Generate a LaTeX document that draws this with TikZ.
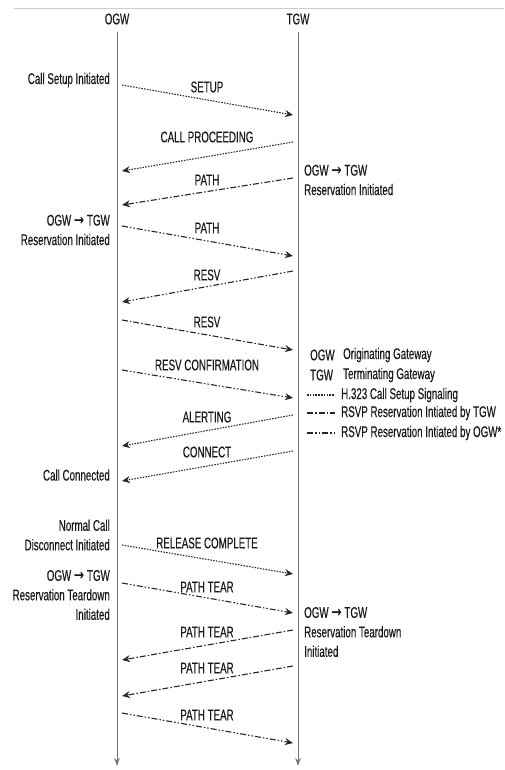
\documentclass[tikz,border=0pt]{standalone}
\usepackage{fontspec}
\setmainfont{Liberation Sans}[FakeStretch=0.63, FakeBold=0.35]
\newfontfamily\arrowfont{DejaVu Sans}[FakeStretch=0.8]
\usetikzlibrary{arrows.meta}

\newcommand{\gwto}{{\arrowfont\bfseries →}}

\tikzset{
  txt/.style={inner sep=0pt, text=black!90, font=\fontsize{15.5}{19.5}\selectfont},
  lside/.style={txt, anchor=east, align=right},
  rside/.style={txt, anchor=west, align=left},
  key/.style={txt, anchor=west},
  life/.style={black!55, line width=1pt, -{Stealth[length=8pt,width=5.5pt]}},
  sig/.style={black!85, line width=1.1pt, -{Stealth[length=8pt,width=7pt]}},
  h323/.style={sig, dash pattern=on 1.5pt off 1.3pt},
  bytgw/.style={sig, dash pattern=on 6pt off 2pt on 1.5pt off 2pt},
  byogw/.style={sig, dash pattern=on 6pt off 2pt on 1.5pt off 2pt on 1.5pt off 2pt}
}

\begin{document}
\begin{tikzpicture}[x=1pt,y=-1pt]
\useasboundingbox (0,0) rectangle (504,770);
\draw[black!20, line width=0.6pt] (14,8) -- (504,8);

% gateways
\node[txt] (ogw) at (117,19) {OGW};
\node[txt] (tgw) at (298,19) {TGW};
\coordinate (ogwend) at (117,766);
\coordinate (tgwend) at (298,766);
\draw[life, shorten <=7pt] (ogw) -- (ogwend);
\draw[life, shorten <=7pt] (tgw) -- (tgwend);

% events
\node[lside] (setupinit) at (110,80) {Call Setup Initiated};
\node[rside] (tgwresv) at (304,180) {OGW \gwto\ TGW\\Reservation Initiated};
\node[lside] (ogwresv) at (110,230) {OGW \gwto\ TGW\\Reservation Initiated};
\node[lside] (connected) at (110,475) {Call Connected};
\node[lside] (disc) at (110,535) {Normal Call\\Disconnect Initiated};
\node[lside] (ogwtear) at (110,595) {OGW \gwto\ TGW\\Reservation Teardown\\Initiated};
\node[rside] (tgwtear) at (304,632) {OGW \gwto\ TGW\\Reservation Teardown\\Initiated};

% end points on the lines
\coordinate (o1) at (122,85);   \coordinate (t1) at (293,115);
\coordinate (t2) at (293,142);  \coordinate (o2) at (122,171);
\coordinate (t3) at (293,178);  \coordinate (o3) at (122,205);
\coordinate (o4) at (122,226);  \coordinate (t4) at (293,256);
\coordinate (t5) at (293,271);  \coordinate (o5) at (122,302);
\coordinate (o6) at (122,320);  \coordinate (t6) at (293,350);
\coordinate (o7) at (122,370);  \coordinate (t7) at (293,398);
\coordinate (t8) at (293,415);  \coordinate (o8) at (122,446);
\coordinate (t9) at (293,451);  \coordinate (o9) at (122,481);
\coordinate (o10) at (122,545); \coordinate (t10) at (293,574);
\coordinate (o11) at (122,583); \coordinate (t11) at (293,613);
\coordinate (t12) at (293,630); \coordinate (o12) at (122,660);
\coordinate (t13) at (293,666); \coordinate (o13) at (122,696);
\coordinate (o14) at (122,713); \coordinate (t14) at (293,743);

% messages
\node[txt] (setup) at (207,87) {SETUP};
\node[txt] (proc) at (207,137) {CALL PROCEEDING};
\node[txt] (path1) at (207,180) {PATH};
\node[txt] (path2) at (207,228) {PATH};
\node[txt] (resv1) at (207,275) {RESV};
\node[txt] (resv2) at (207,322) {RESV};
\node[txt] (conf) at (207,365) {RESV CONFIRMATION};
\node[txt] (alert) at (207,417) {ALERTING};
\node[txt] (conn) at (207,452) {CONNECT};
\node[txt] (rel) at (207,543) {RELEASE COMPLETE};
\node[txt] (tear1) at (207,587) {PATH TEAR};
\node[txt] (tear2) at (207,632) {PATH TEAR};
\node[txt] (tear3) at (207,668) {PATH TEAR};
\node[txt] (tear4) at (207,715) {PATH TEAR};

\draw[h323] (o1) -- (t1);
\draw[h323] (t2) -- (o2);
\draw[bytgw] (t3) -- (o3);
\draw[byogw] (o4) -- (t4);
\draw[byogw] (t5) -- (o5);
\draw[bytgw] (o6) -- (t6);
\draw[byogw] (o7) -- (t7);
\draw[h323] (t8) -- (o8);
\draw[h323] (t9) -- (o9);
\draw[h323] (o10) -- (t10);
\draw[byogw] (o11) -- (t11);
\draw[bytgw] (t12) -- (o12);
\draw[bytgw] (t13) -- (o13);
\draw[byogw] (o14) -- (t14);

% legend
\node[key] (kogw) at (310,355) {OGW};
\node[key] (kogwtxt) at (343,355) {Originating Gateway};
\node[key] (ktgw) at (310,375) {TGW};
\node[key] (ktgwtxt) at (343,375) {Terminating Gateway};
\coordinate (ka1) at (307,395); \coordinate (kb1) at (335,395);
\coordinate (ka2) at (307,413); \coordinate (kb2) at (335,413);
\coordinate (ka3) at (307,433); \coordinate (kb3) at (335,433);
\draw[h323, -] (ka1) -- (kb1);
\draw[bytgw, -] (ka2) -- (kb2);
\draw[byogw, -] (ka3) -- (kb3);
\node[key] (kh323) at (341,395) {H.323 Call Setup Signaling};
\node[key] (ktgwline) at (341,413) {RSVP Reservation Intiated by TGW};
\node[key] (kogwline) at (341,433) {RSVP Reservation Intiated by OGW*};
\end{tikzpicture}
\end{document}
